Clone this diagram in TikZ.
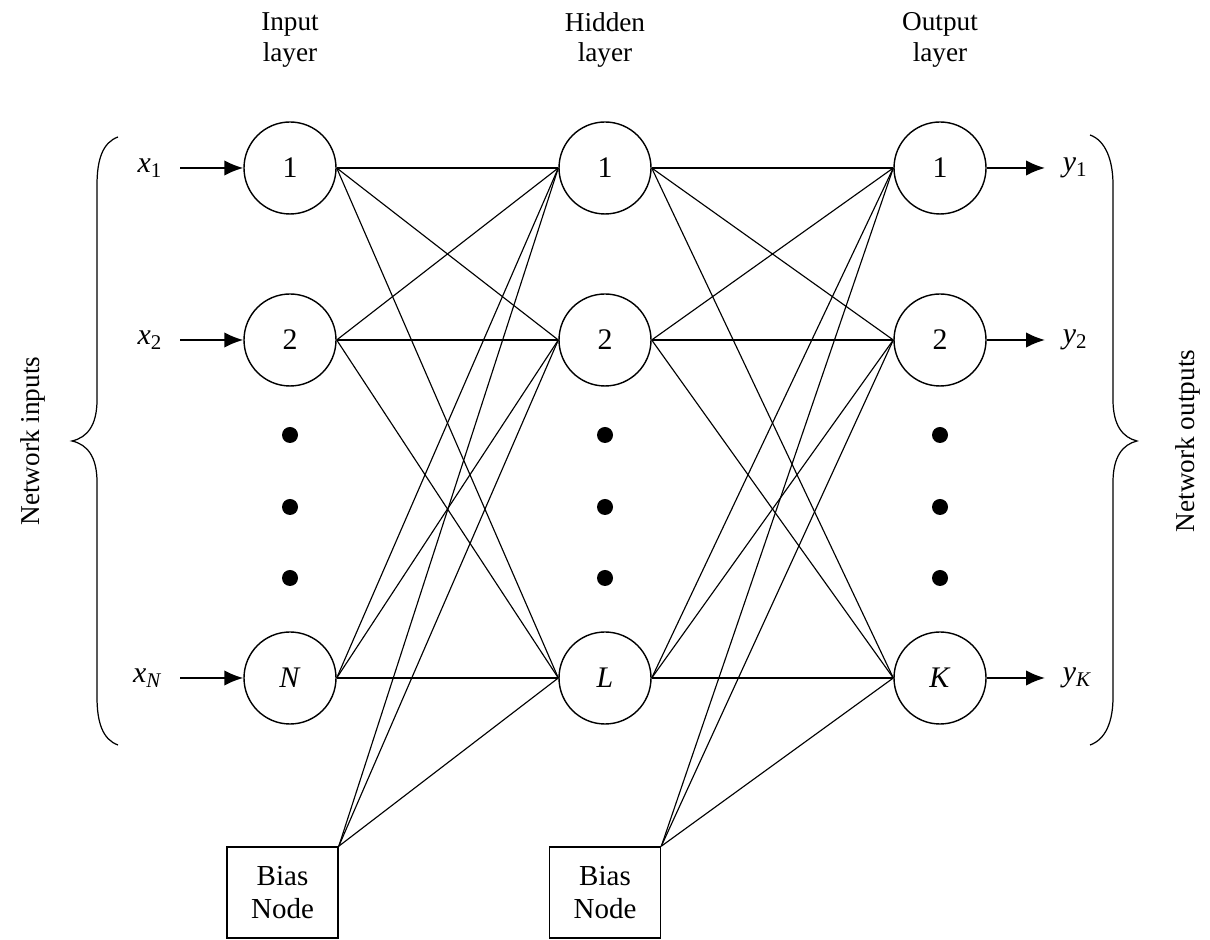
\documentclass[tikz,border=0pt]{standalone}
\usepackage{fontspec}
\setmainfont{Liberation Serif}
\usetikzlibrary{arrows.meta}

\begin{document}
\begin{tikzpicture}[>={Latex[length=3.8mm,width=3.1mm]},
  neuron/.style={circle,draw,line width=0.8pt,minimum size=18.4mm,
  inner sep=0pt,font=\fontsize{17}{17}\selectfont},
  bias node/.style={rectangle,draw,line width=0.9pt,minimum width=22.2mm,
  minimum height=18.2mm,align=center,font=\fontsize{16.5}{19}\selectfont},
  layer label/.style={align=center,font=\fontsize{15.5}{17.5}\selectfont},
  var label/.style={inner xsep=3.5mm,font=\fontsize{17}{17}\selectfont},
  dot/.style={circle,fill,inner sep=0pt,minimum size=3.2mm}]

  \useasboundingbox (0,0) rectangle (24.2,18.8);

  % layers
  \node[neuron] (I1) at (5.8,15.44) {1};
  \node[neuron] (I2) at (5.8,12.0) {2};
  \node[neuron] (IN) at (5.8,5.24) {\textit{N}};
  \node[neuron] (H1) at (12.1,15.44) {1};
  \node[neuron] (H2) at (12.1,12.0) {2};
  \node[neuron] (HL) at (12.1,5.24) {\textit{L}};
  \node[neuron] (O1) at (18.8,15.44) {1};
  \node[neuron] (O2) at (18.8,12.0) {2};
  \node[neuron] (OK) at (18.8,5.24) {\textit{K}};

  \node[bias node] (B1) at (5.65,0.95) {Bias\\Node};
  \node[bias node] (B2) at (12.1,0.95) {Bias\\Node};

  \node[layer label] (IT) at (5.8,18.0) {Input\\layer};
  \node[layer label] (HT) at (12.1,18.0) {Hidden\\layer};
  \node[layer label] (OT) at (18.8,18.0) {Output\\layer};

  % dots between node 2 and the last node
  \node[dot] (ID1) at (5.8,10.1) {};
  \node[dot] (ID2) at (5.8,8.66) {};
  \node[dot] (ID3) at (5.8,7.24) {};
  \node[dot] (HD1) at (12.1,10.1) {};
  \node[dot] (HD2) at (12.1,8.66) {};
  \node[dot] (HD3) at (12.1,7.24) {};
  \node[dot] (OD1) at (18.8,10.1) {};
  \node[dot] (OD2) at (18.8,8.66) {};
  \node[dot] (OD3) at (18.8,7.24) {};

  % inputs and outputs
  \node[var label,anchor=east] (X1) at (3.6,15.44) {\textit{x}\textsubscript{1}};
  \node[var label,anchor=east] (X2) at (3.6,12.0) {\textit{x}\textsubscript{2}};
  \node[var label,anchor=east] (XN) at (3.6,5.24) {\textit{x}\textsubscript{\textit{N}}};
  \node[var label,anchor=west] (Y1) at (20.9,15.44) {\textit{y}\textsubscript{1}};
  \node[var label,anchor=west] (Y2) at (20.9,12.0) {\textit{y}\textsubscript{2}};
  \node[var label,anchor=west] (YK) at (20.9,5.24) {\textit{y}\textsubscript{\textit{K}}};

  \path[->,line width=1.1pt]
    (X1) edge (I1)
    (X2) edge (I2)
    (XN) edge (IN)
    (O1) edge (Y1)
    (O2) edge (Y2)
    (OK) edge (YK);

  \path[line width=0.65pt]
    %input layer to hidden layer
    (I1.east) edge (H1.west) edge (H2.west) edge (HL.west)
    (I2.east) edge (H1.west) edge (H2.west) edge (HL.west)
    (IN.east) edge (H1.west) edge (H2.west) edge (HL.west)
    (B1.north east) edge (H1.west) edge (H2.west) edge (HL.west)
    %hidden layer to output layer
    (H1.east) edge (O1.west) edge (O2.west) edge (OK.west)
    (H2.east) edge (O1.west) edge (O2.west) edge (OK.west)
    (HL.east) edge (O1.west) edge (O2.west) edge (OK.west)
    (B2.north east) edge (O1.west) edge (O2.west) edge (OK.west);

  % braces
  \draw[line width=0.7pt] (2.36,16.06) .. controls (2.05,15.95) and (1.94,15.6) .. (1.94,15.1)
    -- (1.94,10.8) .. controls (1.94,10.3) and (1.75,10.05) .. (1.44,9.98)
    .. controls (1.75,9.91) and (1.94,9.66) .. (1.94,9.16)
    -- (1.94,4.86) .. controls (1.94,4.36) and (2.05,4.01) .. (2.36,3.9);
  \draw[line width=0.7pt] (21.8,16.1) .. controls (22.11,15.99) and (22.26,15.6) .. (22.26,15.1)
    -- (22.26,10.8) .. controls (22.26,10.3) and (22.45,10.05) .. (22.74,9.98)
    .. controls (22.45,9.91) and (22.26,9.66) .. (22.26,9.16)
    -- (22.26,4.86) .. controls (22.26,4.36) and (22.11,4.01) .. (21.8,3.9);

  \node[rotate=90,font=\fontsize{15.5}{17}\selectfont] (NI) at (0.66,9.98) {Network inputs};
  \node[rotate=90,font=\fontsize{15.5}{17}\selectfont] (NO) at (23.75,9.98) {Network outputs};

\end{tikzpicture}
\end{document}
